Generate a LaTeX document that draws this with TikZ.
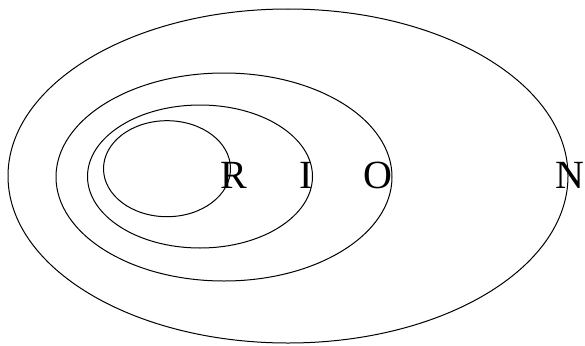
\documentclass[tikz,border=0pt]{standalone}
\usepackage{fontspec}
\setmainfont{Liberation Serif}
\begin{document}
\begin{tikzpicture}[x=1pt,y=-1pt,
  ring/.style={draw=black,line width=1pt},
  lbl/.style={inner sep=0pt,anchor=base,font=\fontsize{40}{48}\selectfont}]
\useasboundingbox (0,0) rectangle (585,345);
\draw[ring] (288,176) ellipse [x radius=280, y radius=167];
\draw[ring] (224,177) ellipse [x radius=168, y radius=104];
\draw[ring] (200,176.5) ellipse [x radius=112.5, y radius=71.5];
\draw[ring] (167,168.7) ellipse [x radius=63.5, y radius=48];
\node[lbl] (r) at (233.5,188) {R};
\node[lbl] (i) at (306.5,188) {I};
\node[lbl] (o) at (378,188) {O};
\node[lbl] (n) at (570,188) {N};
\end{tikzpicture}
\end{document}
